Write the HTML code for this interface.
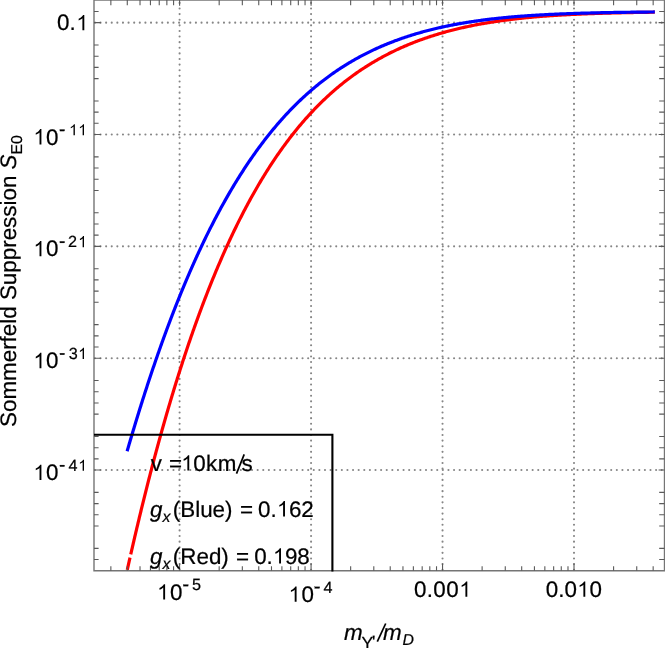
<!DOCTYPE html>
<html><head><meta charset="utf-8"><title>Sommerfeld Suppression</title>
<style>html,body{margin:0;padding:0;background:#fff;}body{width:665px;height:648px;overflow:hidden;font-family:"Liberation Sans",sans-serif;}svg{display:block;will-change:transform;text-rendering:geometricPrecision;}</style>
</head><body>
<svg width="665" height="648" viewBox="0 0 665 648">
<rect width="665" height="648" fill="#fff"/>
<g stroke="#868686" stroke-width="2.1" stroke-linecap="round" stroke-dasharray="0.01 5.602" fill="none">
<path d="M94.90,22.65 H665"/>
<path d="M94.90,134.50 H665"/>
<path d="M94.90,246.35 H665"/>
<path d="M94.90,358.20 H665"/>
<path d="M94.90,470.05 H665"/>
<path d="M179.60,569.70 V0"/>
<path d="M311.07,569.70 V0"/>
<path d="M442.54,569.70 V0"/>
<path d="M574.01,569.70 V0"/>
</g>
<g fill="none" stroke-width="3.2" stroke-linejoin="round">
<path d="M127.25,569.90 L127.50,568.78 L127.75,567.66 L128.00,566.54 L128.25,565.42 L128.50,564.30 L128.75,563.19 L129.00,562.08 L129.25,560.97 L129.50,559.86 L129.75,558.75 L130.00,557.65" stroke="#ff0000"/>
<path d="M130.75,554.34 L131.00,553.24 L131.25,552.15 L131.50,551.05 L131.75,549.96 L132.00,548.87 L132.25,547.78 L132.50,546.69 L132.75,545.61 L133.00,544.52 L133.25,543.44 L133.50,542.36 L133.75,541.28 L134.00,540.20 L134.25,539.13 L134.50,538.06 L134.75,536.98 L135.00,535.91 L135.25,534.85 L135.50,533.78 L135.75,532.71 L136.00,531.65 L136.25,530.59 L136.50,529.53 L136.75,528.47 L137.00,527.42 L137.25,526.36 L137.50,525.31 L137.75,524.26 L138.00,523.21 L138.25,522.16 L138.50,521.12 L138.75,520.07 L139.00,519.03 L139.25,517.99 L139.50,516.95 L139.75,515.91 L140.00,514.88 L140.25,513.85 L140.50,512.81 L140.75,511.78 L141.00,510.75 L141.25,509.73 L141.50,508.70 L141.75,507.68 L142.00,506.66 L142.25,505.64 L142.50,504.62 L142.75,503.60 L143.00,502.59 L143.25,501.57 L143.50,500.56 L143.75,499.55 L144.00,498.55 L144.25,497.54 L144.50,496.53 L144.75,495.53 L145.00,494.53 L145.25,493.53 L145.50,492.53 L145.75,491.54 L146.00,490.54 L146.25,489.55 L146.50,488.56 L146.75,487.57 L147.00,486.58 L147.25,485.59 L147.50,484.61 L147.75,483.62 L148.00,482.64 L148.25,481.66 L148.50,480.69 L148.75,479.71 L149.00,478.73 L149.25,477.76 L149.50,476.79 L149.75,475.82 L150.00,474.85 L150.25,473.89 L150.50,472.92 L150.75,471.96 L151.00,471.00 L151.25,470.04 L151.50,469.08 L151.75,468.12 L152.00,467.17 L152.25,466.21 L152.50,465.26 L152.75,464.31 L153.00,463.36 L153.25,462.42 L153.50,461.47 L153.75,460.53 L154.00,459.59 L154.25,458.65 L154.50,457.71 L154.75,456.77 L155.00,455.83 L155.25,454.90 L155.50,453.97 L155.75,453.04 L156.00,452.11 L156.25,451.18 L156.50,450.26 L156.75,449.33 L157.00,448.41 L157.25,447.49 L157.50,446.57 L157.75,445.65 L158.00,444.73 L158.25,443.82 L158.50,442.91 L158.75,442.00 L159.00,441.09 L159.25,440.18 L159.50,439.27 L159.75,438.37 L160.00,437.46 L160.25,436.56 L160.50,435.66 L160.75,434.76 L161.00,433.86 L161.25,432.97 L161.50,432.07 L161.75,431.18 L162.00,430.29 L162.25,429.40 L162.50,428.51 L162.75,427.63 L163.00,426.74 L163.25,425.86 L163.50,424.98 L163.75,424.10 L164.00,423.22 L164.25,422.34 L164.50,421.47 L164.75,420.59 L165.00,419.72 L165.25,418.85 L165.50,417.98 L165.75,417.11 L166.00,416.24 L166.25,415.38 L166.50,414.52 L166.75,413.66 L167.00,412.79 L167.25,411.94 L167.50,411.08 L167.75,410.22 L168.00,409.37 L168.25,408.52 L168.50,407.67 L168.75,406.82 L169.00,405.97 L169.25,405.12 L169.50,404.28 L169.75,403.43 L170.00,402.59 L170.25,401.75 L170.50,400.91 L170.75,400.07 L171.00,399.24 L171.25,398.40 L171.50,397.57 L171.75,396.74 L172.00,395.91 L172.25,395.08 L172.50,394.25 L172.75,393.43 L173.00,392.60 L173.25,391.78 L173.50,390.96 L173.75,390.14 L174.00,389.32 L174.25,388.51 L174.50,387.69 L174.75,386.88 L175.00,386.06 L175.25,385.25 L175.50,384.44 L175.75,383.64 L176.00,382.83 L176.25,382.02 L176.50,381.22 L176.75,380.42 L177.00,379.62 L177.25,378.82 L177.50,378.02 L177.75,377.22 L178.00,376.43 L178.25,375.64 L178.50,374.84 L178.75,374.05 L179.00,373.26 L179.25,372.48 L179.50,371.69 L179.75,370.91 L180.00,370.12 L180.25,369.34 L180.50,368.56 L180.75,367.78 L181.00,367.00 L181.25,366.23 L181.50,365.45 L181.75,364.68 L182.00,363.91 L182.25,363.14 L182.50,362.37 L182.75,361.60 L183.00,360.83 L183.25,360.07 L183.50,359.30 L183.75,358.54 L184.00,357.78 L184.25,357.02 L184.50,356.26 L184.75,355.51 L185.00,354.75 L185.25,354.00 L185.50,353.24 L185.75,352.49 L186.00,351.74 L186.25,350.99 L186.50,350.25 L186.75,349.50 L187.00,348.76 L187.25,348.01 L187.50,347.27 L187.75,346.53 L188.00,345.79 L188.25,345.06 L188.50,344.32 L188.75,343.58 L189.00,342.85 L189.25,342.12 L189.50,341.39 L189.75,340.66 L190.00,339.93 L190.25,339.20 L190.50,338.48 L190.75,337.76 L191.00,337.03 L191.25,336.31 L191.50,335.59 L191.75,334.87 L192.00,334.16 L192.25,333.44 L192.50,332.72 L192.75,332.01 L193.00,331.30 L193.25,330.59 L193.50,329.88 L193.75,329.17 L194.00,328.46 L194.25,327.76 L194.50,327.06 L194.75,326.35 L195.00,325.65 L195.25,324.95 L195.50,324.25 L195.75,323.55 L196.00,322.86 L196.25,322.16 L196.50,321.47 L196.75,320.78 L197.00,320.09 L197.25,319.40 L197.50,318.71 L197.75,318.02 L198.00,317.34 L198.25,316.65 L198.50,315.97 L198.75,315.29 L199.00,314.60 L199.25,313.93 L199.50,313.25 L199.75,312.57 L200.00,311.89 L201.00,309.20 L202.00,306.53 L203.00,303.89 L204.00,301.26 L205.00,298.65 L206.00,296.06 L207.00,293.48 L208.00,290.93 L209.00,288.40 L210.00,285.89 L211.00,283.40 L212.00,280.92 L213.00,278.47 L214.00,276.03 L215.00,273.61 L216.00,271.21 L217.00,268.83 L218.00,266.47 L219.00,264.12 L220.00,261.80 L221.00,259.49 L222.00,257.20 L223.00,254.92 L224.00,252.67 L225.00,250.43 L226.00,248.21 L227.00,246.01 L228.00,243.82 L229.00,241.65 L230.00,239.50 L231.00,237.36 L232.00,235.25 L233.00,233.14 L234.00,231.06 L235.00,228.99 L236.00,226.94 L237.00,224.90 L238.00,222.88 L239.00,220.88 L240.00,218.89 L241.00,216.92 L242.00,214.96 L243.00,213.02 L244.00,211.10 L245.00,209.19 L246.00,207.29 L247.00,205.41 L248.00,203.55 L249.00,201.70 L250.00,199.87 L251.00,198.05 L252.00,196.25 L253.00,194.46 L254.00,192.68 L255.00,190.92 L256.00,189.18 L257.00,187.45 L258.00,185.73 L259.00,184.03 L260.00,182.34 L261.00,180.66 L262.00,179.00 L263.00,177.36 L264.00,175.72 L265.00,174.10 L266.00,172.50 L267.00,170.90 L268.00,169.33 L269.00,167.76 L270.00,166.21 L271.00,164.67 L272.00,163.14 L273.00,161.63 L274.00,160.13 L275.00,158.64 L276.00,157.17 L277.00,155.70 L278.00,154.26 L279.00,152.82 L280.00,151.39 L281.00,149.98 L282.00,148.58 L283.00,147.19 L284.00,145.82 L285.00,144.45 L286.00,143.10 L287.00,141.76 L288.00,140.43 L289.00,139.11 L290.00,137.81 L291.00,136.52 L292.00,135.23 L293.00,133.96 L294.00,132.70 L295.00,131.45 L296.00,130.22 L297.00,128.99 L298.00,127.77 L299.00,126.57 L300.00,125.37 L301.00,124.19 L302.00,123.02 L303.00,121.85 L304.00,120.70 L305.00,119.56 L306.00,118.43 L307.00,117.31 L308.00,116.20 L309.00,115.10 L310.00,114.01 L311.00,112.93 L312.00,111.85 L313.00,110.79 L314.00,109.74 L315.00,108.70 L316.00,107.67 L317.00,106.64 L318.00,105.63 L319.00,104.63 L320.00,103.63 L321.00,102.64 L322.00,101.67 L323.00,100.70 L324.00,99.74 L325.00,98.79 L326.00,97.85 L327.00,96.92 L328.00,95.99 L329.00,95.08 L330.00,94.17 L331.00,93.27 L332.00,92.38 L333.00,91.50 L334.00,90.63 L335.00,89.77 L336.00,88.91 L337.00,88.06 L338.00,87.22 L339.00,86.39 L340.00,85.56 L341.00,84.74 L342.00,83.94 L343.00,83.13 L344.00,82.34 L345.00,81.55 L346.00,80.77 L347.00,80.00 L348.00,79.24 L349.00,78.48 L350.00,77.73 L351.00,76.99 L352.00,76.25 L353.00,75.53 L354.00,74.81 L355.00,74.09 L356.00,73.38 L357.00,72.68 L358.00,71.99 L359.00,71.30 L360.00,70.62 L361.00,69.95 L362.00,69.28 L363.00,68.62 L364.00,67.97 L365.00,67.32 L366.00,66.68 L367.00,66.04 L368.00,65.41 L369.00,64.79 L370.00,64.17 L371.00,63.56 L372.00,62.96 L373.00,62.36 L374.00,61.77 L375.00,61.18 L376.00,60.60 L377.00,60.02 L378.00,59.45 L379.00,58.89 L380.00,58.33 L381.00,57.78 L382.00,57.23 L383.00,56.69 L384.00,56.16 L385.00,55.62 L386.00,55.10 L387.00,54.58 L388.00,54.06 L389.00,53.55 L390.00,53.05 L391.00,52.55 L392.00,52.06 L393.00,51.57 L394.00,51.08 L395.00,50.60 L396.00,50.13 L397.00,49.66 L398.00,49.20 L399.00,48.74 L400.00,48.28 L401.00,47.83 L402.00,47.38 L403.00,46.94 L404.00,46.51 L405.00,46.07 L406.00,45.65 L407.00,45.22 L408.00,44.80 L409.00,44.39 L410.00,43.98 L411.00,43.57 L412.00,43.17 L413.00,42.78 L414.00,42.38 L415.00,41.99 L416.00,41.61 L417.00,41.23 L418.00,40.85 L419.00,40.48 L420.00,40.11 L421.00,39.75 L422.00,39.38 L423.00,39.03 L424.00,38.67 L425.00,38.33 L426.00,37.98 L427.00,37.64 L428.00,37.30 L429.00,36.97 L430.00,36.64 L431.00,36.31 L432.00,35.98 L433.00,35.66 L434.00,35.35 L435.00,35.04 L436.00,34.73 L437.00,34.42 L438.00,34.12 L439.00,33.82 L440.00,33.52 L441.00,33.23 L442.00,32.94 L443.00,32.65 L444.00,32.37 L445.00,32.09 L446.00,31.82 L447.00,31.54 L448.00,31.27 L449.00,31.00 L450.00,30.74 L451.00,30.48 L452.00,30.22 L453.00,29.97 L454.00,29.71 L455.00,29.46 L456.00,29.22 L457.00,28.97 L458.00,28.73 L459.00,28.50 L460.00,28.26 L461.00,28.03 L462.00,27.80 L463.00,27.57 L464.00,27.35 L465.00,27.13 L466.00,26.91 L467.00,26.69 L468.00,26.48 L469.00,26.27 L470.00,26.06 L471.00,25.85 L472.00,25.65 L473.00,25.45 L474.00,25.25 L475.00,25.05 L476.00,24.86 L477.00,24.67 L478.00,24.48 L479.00,24.29 L480.00,24.11 L481.00,23.93 L482.00,23.75 L483.00,23.57 L484.00,23.40 L485.00,23.22 L486.00,23.05 L487.00,22.88 L488.00,22.72 L489.00,22.55 L490.00,22.39 L491.00,22.23 L492.00,22.07 L493.00,21.91 L494.00,21.76 L495.00,21.61 L496.00,21.46 L497.00,21.31 L498.00,21.16 L499.00,21.02 L500.00,20.88 L501.00,20.74 L502.00,20.60 L503.00,20.46 L504.00,20.33 L505.00,20.19 L506.00,20.06 L507.00,19.93 L508.00,19.80 L509.00,19.68 L510.00,19.55 L511.00,19.43 L512.00,19.31 L513.00,19.19 L514.00,19.07 L515.00,18.95 L516.00,18.84 L517.00,18.73 L518.00,18.61 L519.00,18.50 L520.00,18.40 L521.00,18.29 L522.00,18.18 L523.00,18.08 L524.00,17.98 L525.00,17.88 L526.00,17.78 L527.00,17.68 L528.00,17.58 L529.00,17.49 L530.00,17.39 L531.00,17.30 L532.00,17.21 L533.00,17.12 L534.00,17.03 L535.00,16.94 L536.00,16.85 L537.00,16.77 L538.00,16.68 L539.00,16.60 L540.00,16.52 L541.00,16.44 L542.00,16.36 L543.00,16.28 L544.00,16.21 L545.00,16.13 L546.00,16.06 L547.00,15.98 L548.00,15.91 L549.00,15.84 L550.00,15.77 L551.00,15.70 L552.00,15.63 L553.00,15.57 L554.00,15.50 L555.00,15.43 L556.00,15.37 L557.00,15.31 L558.00,15.24 L559.00,15.18 L560.00,15.12 L561.00,15.06 L562.00,15.01 L563.00,14.95 L564.00,14.89 L565.00,14.84 L566.00,14.78 L567.00,14.73 L568.00,14.67 L569.00,14.62 L570.00,14.57 L571.00,14.52 L572.00,14.47 L573.00,14.42 L574.00,14.37 L575.00,14.32 L576.00,14.28 L577.00,14.23 L578.00,14.18 L579.00,14.14 L580.00,14.09 L581.00,14.05 L582.00,14.01 L583.00,13.97 L584.00,13.92 L585.00,13.88 L586.00,13.84 L587.00,13.80 L588.00,13.77 L589.00,13.73 L590.00,13.69 L591.00,13.65 L592.00,13.62 L593.00,13.58 L594.00,13.55 L595.00,13.51 L596.00,13.48 L597.00,13.44 L598.00,13.41 L599.00,13.38 L600.00,13.35 L601.00,13.31 L602.00,13.28 L603.00,13.25 L604.00,13.22 L605.00,13.19 L606.00,13.16 L607.00,13.14 L608.00,13.11 L609.00,13.08 L610.00,13.05 L611.00,13.03 L612.00,13.00 L613.00,12.97 L614.00,12.95 L615.00,12.92 L616.00,12.90 L617.00,12.87 L618.00,12.85 L619.00,12.83 L620.00,12.80 L621.00,12.78 L622.00,12.76 L623.00,12.74 L624.00,12.72 L625.00,12.69 L626.00,12.67 L627.00,12.65 L628.00,12.63 L629.00,12.61 L630.00,12.59 L631.00,12.57 L632.00,12.56 L633.00,12.54 L634.00,12.52 L635.00,12.50 L636.00,12.48 L637.00,12.47 L638.00,12.45 L639.00,12.43 L640.00,12.42 L641.00,12.40 L642.00,12.38 L643.00,12.37 L644.00,12.35 L645.00,12.34 L646.00,12.32 L647.00,12.31 L648.00,12.29 L649.00,12.28 L650.00,12.27 L651.00,12.25 L652.00,12.24 L653.00,12.23 L654.00,12.21 L654.80,12.20" stroke="#ff0000"/>
<path d="M127.10,451.29 L127.35,450.42 L127.60,449.56 L127.85,448.70 L128.10,447.84 L128.35,446.98 L128.60,446.13 L128.85,445.27 L129.10,444.42 L129.35,443.56 L129.60,442.71 L129.85,441.86 L130.10,441.01 L130.35,440.16 L130.60,439.32 L130.85,438.47 L131.10,437.62 L131.35,436.78 L131.60,435.94 L131.85,435.10 L132.10,434.26 L132.35,433.42 L132.60,432.58 L132.85,431.75 L133.10,430.91 L133.35,430.08 L133.60,429.25 L133.85,428.42 L134.10,427.59 L134.35,426.76 L134.60,425.93 L134.85,425.10 L135.10,424.28 L135.35,423.46 L135.60,422.63 L135.85,421.81 L136.10,420.99 L136.35,420.17 L136.60,419.36 L136.85,418.54 L137.10,417.72 L137.35,416.91 L137.60,416.10 L137.85,415.29 L138.10,414.48 L138.35,413.67 L138.60,412.86 L138.85,412.05 L139.10,411.25 L139.35,410.45 L139.60,409.64 L139.85,408.84 L140.10,408.04 L140.35,407.24 L140.60,406.44 L140.85,405.65 L141.10,404.85 L141.35,404.06 L141.60,403.27 L141.85,402.47 L142.10,401.68 L142.35,400.89 L142.60,400.11 L142.85,399.32 L143.10,398.53 L143.35,397.75 L143.60,396.97 L143.85,396.18 L144.10,395.40 L144.35,394.62 L144.60,393.85 L144.85,393.07 L145.10,392.29 L145.35,391.52 L145.60,390.74 L145.85,389.97 L146.10,389.20 L146.35,388.43 L146.60,387.66 L146.85,386.90 L147.10,386.13 L147.35,385.36 L147.60,384.60 L147.85,383.84 L148.10,383.08 L148.35,382.32 L148.60,381.56 L148.85,380.80 L149.10,380.04 L149.35,379.29 L149.60,378.53 L149.85,377.78 L150.10,377.03 L150.35,376.28 L150.60,375.53 L150.85,374.78 L151.10,374.03 L151.35,373.29 L151.60,372.54 L151.85,371.80 L152.10,371.06 L152.35,370.31 L152.60,369.57 L152.85,368.84 L153.10,368.10 L153.35,367.36 L153.60,366.63 L153.85,365.89 L154.10,365.16 L154.35,364.43 L154.60,363.70 L154.85,362.97 L155.10,362.24 L155.35,361.51 L155.60,360.79 L155.85,360.06 L156.10,359.34 L156.35,358.62 L156.60,357.89 L156.85,357.17 L157.10,356.46 L157.35,355.74 L157.60,355.02 L157.85,354.31 L158.10,353.59 L158.35,352.88 L158.60,352.17 L158.85,351.46 L159.10,350.75 L159.35,350.04 L159.60,349.33 L159.85,348.63 L160.10,347.92 L160.35,347.22 L160.60,346.51 L160.85,345.81 L161.10,345.11 L161.35,344.41 L161.60,343.72 L161.85,343.02 L162.10,342.32 L162.35,341.63 L162.60,340.94 L162.85,340.24 L163.10,339.55 L163.35,338.86 L163.60,338.17 L163.85,337.49 L164.10,336.80 L164.35,336.11 L164.60,335.43 L164.85,334.75 L165.10,334.06 L165.35,333.38 L165.60,332.70 L165.85,332.02 L166.10,331.35 L166.35,330.67 L166.60,330.00 L166.85,329.32 L167.10,328.65 L167.35,327.98 L167.60,327.31 L167.85,326.64 L168.10,325.97 L168.35,325.30 L168.60,324.63 L168.85,323.97 L169.10,323.31 L169.35,322.64 L169.60,321.98 L169.85,321.32 L170.10,320.66 L170.35,320.00 L170.60,319.34 L170.85,318.69 L171.10,318.03 L171.35,317.38 L171.60,316.73 L171.85,316.08 L172.10,315.42 L172.35,314.77 L172.60,314.13 L172.85,313.48 L173.10,312.83 L173.35,312.19 L173.60,311.54 L173.85,310.90 L174.10,310.26 L174.35,309.62 L174.60,308.98 L174.85,308.34 L175.10,307.70 L175.35,307.07 L175.60,306.43 L175.85,305.80 L176.10,305.16 L176.35,304.53 L176.60,303.90 L176.85,303.27 L177.10,302.64 L177.35,302.01 L177.60,301.39 L177.85,300.76 L178.10,300.14 L178.35,299.51 L178.60,298.89 L178.85,298.27 L179.10,297.65 L179.35,297.03 L179.60,296.41 L179.85,295.80 L180.10,295.18 L180.35,294.56 L180.60,293.95 L180.85,293.34 L181.10,292.73 L181.35,292.12 L181.60,291.51 L181.85,290.90 L182.10,290.29 L182.35,289.68 L182.60,289.08 L182.85,288.47 L183.10,287.87 L183.35,287.27 L183.60,286.67 L183.85,286.07 L184.10,285.47 L184.35,284.87 L184.60,284.27 L184.85,283.68 L185.10,283.08 L185.35,282.49 L185.60,281.90 L185.85,281.30 L186.10,280.71 L186.35,280.12 L186.60,279.53 L186.85,278.95 L187.10,278.36 L187.35,277.78 L187.60,277.19 L187.85,276.61 L188.10,276.02 L188.35,275.44 L188.60,274.86 L188.85,274.28 L189.10,273.71 L189.35,273.13 L189.60,272.55 L189.85,271.98 L190.10,271.40 L190.35,270.83 L190.60,270.26 L190.85,269.69 L191.10,269.11 L191.35,268.55 L191.60,267.98 L191.85,267.41 L192.10,266.84 L192.35,266.28 L192.60,265.71 L192.85,265.15 L193.10,264.59 L193.35,264.03 L193.60,263.47 L193.85,262.91 L194.10,262.35 L194.35,261.79 L194.60,261.24 L194.85,260.68 L195.10,260.13 L195.35,259.57 L195.60,259.02 L195.85,258.47 L196.10,257.92 L196.35,257.37 L196.60,256.82 L196.85,256.28 L197.10,255.73 L197.35,255.18 L197.60,254.64 L197.85,254.10 L198.10,253.55 L198.35,253.01 L198.60,252.47 L198.85,251.93 L199.10,251.39 L199.35,250.86 L199.60,250.32 L199.85,249.78 L200.00,249.46 L201.00,247.33 L202.00,245.22 L203.00,243.12 L204.00,241.03 L205.00,238.96 L206.00,236.91 L207.00,234.87 L208.00,232.85 L209.00,230.84 L210.00,228.84 L211.00,226.86 L212.00,224.90 L213.00,222.94 L214.00,221.01 L215.00,219.09 L216.00,217.18 L217.00,215.28 L218.00,213.40 L219.00,211.54 L220.00,209.69 L221.00,207.85 L222.00,206.02 L223.00,204.21 L224.00,202.41 L225.00,200.63 L226.00,198.86 L227.00,197.10 L228.00,195.36 L229.00,193.63 L230.00,191.91 L231.00,190.21 L232.00,188.52 L233.00,186.84 L234.00,185.18 L235.00,183.53 L236.00,181.89 L237.00,180.26 L238.00,178.65 L239.00,177.04 L240.00,175.45 L241.00,173.88 L242.00,172.31 L243.00,170.76 L244.00,169.22 L245.00,167.69 L246.00,166.18 L247.00,164.67 L248.00,163.18 L249.00,161.70 L250.00,160.23 L251.00,158.78 L252.00,157.33 L253.00,155.90 L254.00,154.48 L255.00,153.07 L256.00,151.67 L257.00,150.28 L258.00,148.91 L259.00,147.54 L260.00,146.19 L261.00,144.85 L262.00,143.52 L263.00,142.19 L264.00,140.88 L265.00,139.59 L266.00,138.30 L267.00,137.02 L268.00,135.75 L269.00,134.50 L270.00,133.25 L271.00,132.02 L272.00,130.79 L273.00,129.58 L274.00,128.38 L275.00,127.18 L276.00,126.00 L277.00,124.82 L278.00,123.66 L279.00,122.51 L280.00,121.36 L281.00,120.23 L282.00,119.11 L283.00,117.99 L284.00,116.89 L285.00,115.79 L286.00,114.71 L287.00,113.63 L288.00,112.57 L289.00,111.51 L290.00,110.46 L291.00,109.42 L292.00,108.39 L293.00,107.37 L294.00,106.36 L295.00,105.36 L296.00,104.37 L297.00,103.38 L298.00,102.41 L299.00,101.44 L300.00,100.48 L301.00,99.53 L302.00,98.59 L303.00,97.66 L304.00,96.73 L305.00,95.82 L306.00,94.91 L307.00,94.01 L308.00,93.12 L309.00,92.24 L310.00,91.36 L311.00,90.50 L312.00,89.64 L313.00,88.79 L314.00,87.94 L315.00,87.11 L316.00,86.28 L317.00,85.46 L318.00,84.65 L319.00,83.85 L320.00,83.05 L321.00,82.26 L322.00,81.48 L323.00,80.70 L324.00,79.94 L325.00,79.17 L326.00,78.42 L327.00,77.68 L328.00,76.94 L329.00,76.20 L330.00,75.48 L331.00,74.76 L332.00,74.05 L333.00,73.35 L334.00,72.65 L335.00,71.96 L336.00,71.27 L337.00,70.59 L338.00,69.92 L339.00,69.26 L340.00,68.60 L341.00,67.95 L342.00,67.30 L343.00,66.66 L344.00,66.03 L345.00,65.40 L346.00,64.78 L347.00,64.16 L348.00,63.56 L349.00,62.95 L350.00,62.36 L351.00,61.76 L352.00,61.18 L353.00,60.60 L354.00,60.02 L355.00,59.46 L356.00,58.89 L357.00,58.34 L358.00,57.78 L359.00,57.24 L360.00,56.70 L361.00,56.16 L362.00,55.63 L363.00,55.11 L364.00,54.59 L365.00,54.07 L366.00,53.57 L367.00,53.06 L368.00,52.56 L369.00,52.07 L370.00,51.58 L371.00,51.10 L372.00,50.62 L373.00,50.14 L374.00,49.67 L375.00,49.21 L376.00,48.75 L377.00,48.30 L378.00,47.85 L379.00,47.40 L380.00,46.96 L381.00,46.52 L382.00,46.09 L383.00,45.66 L384.00,45.24 L385.00,44.82 L386.00,44.41 L387.00,44.00 L388.00,43.59 L389.00,43.19 L390.00,42.79 L391.00,42.40 L392.00,42.01 L393.00,41.63 L394.00,41.25 L395.00,40.87 L396.00,40.50 L397.00,40.13 L398.00,39.76 L399.00,39.40 L400.00,39.05 L401.00,38.69 L402.00,38.34 L403.00,38.00 L404.00,37.66 L405.00,37.32 L406.00,36.98 L407.00,36.65 L408.00,36.33 L409.00,36.00 L410.00,35.68 L411.00,35.37 L412.00,35.05 L413.00,34.74 L414.00,34.44 L415.00,34.14 L416.00,33.84 L417.00,33.54 L418.00,33.25 L419.00,32.96 L420.00,32.67 L421.00,32.39 L422.00,32.11 L423.00,31.83 L424.00,31.56 L425.00,31.29 L426.00,31.02 L427.00,30.76 L428.00,30.50 L429.00,30.24 L430.00,29.98 L431.00,29.73 L432.00,29.48 L433.00,29.23 L434.00,28.99 L435.00,28.75 L436.00,28.51 L437.00,28.28 L438.00,28.04 L439.00,27.81 L440.00,27.59 L441.00,27.36 L442.00,27.14 L443.00,26.92 L444.00,26.71 L445.00,26.49 L446.00,26.28 L447.00,26.07 L448.00,25.87 L449.00,25.66 L450.00,25.46 L451.00,25.26 L452.00,25.07 L453.00,24.87 L454.00,24.68 L455.00,24.49 L456.00,24.31 L457.00,24.12 L458.00,23.94 L459.00,23.76 L460.00,23.58 L461.00,23.41 L462.00,23.23 L463.00,23.06 L464.00,22.89 L465.00,22.73 L466.00,22.56 L467.00,22.40 L468.00,22.24 L469.00,22.08 L470.00,21.93 L471.00,21.77 L472.00,21.62 L473.00,21.47 L474.00,21.32 L475.00,21.17 L476.00,21.03 L477.00,20.89 L478.00,20.75 L479.00,20.61 L480.00,20.47 L481.00,20.33 L482.00,20.20 L483.00,20.07 L484.00,19.94 L485.00,19.81 L486.00,19.69 L487.00,19.56 L488.00,19.44 L489.00,19.32 L490.00,19.20 L491.00,19.08 L492.00,18.96 L493.00,18.85 L494.00,18.73 L495.00,18.62 L496.00,18.51 L497.00,18.40 L498.00,18.30 L499.00,18.19 L500.00,18.09 L501.00,17.98 L502.00,17.88 L503.00,17.78 L504.00,17.68 L505.00,17.59 L506.00,17.49 L507.00,17.40 L508.00,17.31 L509.00,17.21 L510.00,17.12 L511.00,17.03 L512.00,16.95 L513.00,16.86 L514.00,16.77 L515.00,16.69 L516.00,16.61 L517.00,16.53 L518.00,16.45 L519.00,16.37 L520.00,16.29 L521.00,16.21 L522.00,16.14 L523.00,16.06 L524.00,15.99 L525.00,15.92 L526.00,15.84 L527.00,15.77 L528.00,15.71 L529.00,15.64 L530.00,15.57 L531.00,15.50 L532.00,15.44 L533.00,15.37 L534.00,15.31 L535.00,15.25 L536.00,15.19 L537.00,15.13 L538.00,15.07 L539.00,15.01 L540.00,14.95 L541.00,14.90 L542.00,14.84 L543.00,14.78 L544.00,14.73 L545.00,14.68 L546.00,14.62 L547.00,14.57 L548.00,14.52 L549.00,14.47 L550.00,14.42 L551.00,14.37 L552.00,14.33 L553.00,14.28 L554.00,14.23 L555.00,14.19 L556.00,14.14 L557.00,14.10 L558.00,14.05 L559.00,14.01 L560.00,13.97 L561.00,13.93 L562.00,13.89 L563.00,13.85 L564.00,13.81 L565.00,13.77 L566.00,13.73 L567.00,13.69 L568.00,13.66 L569.00,13.62 L570.00,13.58 L571.00,13.55 L572.00,13.51 L573.00,13.48 L574.00,13.45 L575.00,13.41 L576.00,13.38 L577.00,13.35 L578.00,13.32 L579.00,13.28 L580.00,13.25 L581.00,13.22 L582.00,13.19 L583.00,13.17 L584.00,13.14 L585.00,13.11 L586.00,13.08 L587.00,13.05 L588.00,13.03 L589.00,13.00 L590.00,12.98 L591.00,12.95 L592.00,12.92 L593.00,12.90 L594.00,12.88 L595.00,12.85 L596.00,12.83 L597.00,12.81 L598.00,12.78 L599.00,12.76 L600.00,12.74 L601.00,12.72 L602.00,12.70 L603.00,12.68 L604.00,12.65 L605.00,12.63 L606.00,12.61 L607.00,12.60 L608.00,12.58 L609.00,12.56 L610.00,12.54 L611.00,12.52 L612.00,12.50 L613.00,12.48 L614.00,12.47 L615.00,12.45 L616.00,12.43 L617.00,12.42 L618.00,12.40 L619.00,12.38 L620.00,12.37 L621.00,12.35 L622.00,12.34 L623.00,12.32 L624.00,12.31 L625.00,12.29 L626.00,12.28 L627.00,12.27 L628.00,12.25 L629.00,12.24 L630.00,12.23 L631.00,12.21 L632.00,12.20 L633.00,12.19 L634.00,12.18 L635.00,12.16 L636.00,12.15 L637.00,12.14 L638.00,12.13 L639.00,12.12 L640.00,12.11 L641.00,12.09 L642.00,12.08 L643.00,12.07 L644.00,12.06 L645.00,12.05 L646.00,12.04 L647.00,12.03 L648.00,12.02 L649.00,12.01 L650.00,12.00 L651.00,11.99 L652.00,11.99 L653.00,11.98 L654.00,11.97 L654.80,11.96" stroke="#0000ff"/>
</g>
<g stroke="#757575" stroke-width="1.4" fill="none">
<path d="M94.0,0 V570.8 M664.5,0 V570.8 M93.3,570.8 H665 M93.3,0.05 H665"/>
</g>
<g stroke="#5a5a5a" stroke-width="1.1" fill="none">
<path d="M110.86,570.8 v-4.6 M110.86,0 v5.3"/>
<path d="M127.28,570.8 v-4.6 M127.28,0 v5.3"/>
<path d="M140.02,570.8 v-4.6 M140.02,0 v5.3"/>
<path d="M150.43,570.8 v-4.6 M150.43,0 v5.3"/>
<path d="M159.24,570.8 v-4.6 M159.24,0 v5.3"/>
<path d="M166.86,570.8 v-4.6 M166.86,0 v5.3"/>
<path d="M173.58,570.8 v-4.6 M173.58,0 v5.3"/>
<path d="M179.60,570.8 v-7.2 M179.60,0 v5.8"/>
<path d="M219.18,570.8 v-4.6 M219.18,0 v5.3"/>
<path d="M242.33,570.8 v-4.6 M242.33,0 v5.3"/>
<path d="M258.75,570.8 v-4.6 M258.75,0 v5.3"/>
<path d="M271.49,570.8 v-4.6 M271.49,0 v5.3"/>
<path d="M281.90,570.8 v-4.6 M281.90,0 v5.3"/>
<path d="M290.71,570.8 v-4.6 M290.71,0 v5.3"/>
<path d="M298.33,570.8 v-4.6 M298.33,0 v5.3"/>
<path d="M305.05,570.8 v-4.6 M305.05,0 v5.3"/>
<path d="M311.07,570.8 v-7.2 M311.07,0 v5.8"/>
<path d="M350.65,570.8 v-4.6 M350.65,0 v5.3"/>
<path d="M373.80,570.8 v-4.6 M373.80,0 v5.3"/>
<path d="M390.22,570.8 v-4.6 M390.22,0 v5.3"/>
<path d="M402.96,570.8 v-4.6 M402.96,0 v5.3"/>
<path d="M413.37,570.8 v-4.6 M413.37,0 v5.3"/>
<path d="M422.18,570.8 v-4.6 M422.18,0 v5.3"/>
<path d="M429.80,570.8 v-4.6 M429.80,0 v5.3"/>
<path d="M436.52,570.8 v-4.6 M436.52,0 v5.3"/>
<path d="M442.54,570.8 v-7.2 M442.54,0 v5.8"/>
<path d="M482.12,570.8 v-4.6 M482.12,0 v5.3"/>
<path d="M505.27,570.8 v-4.6 M505.27,0 v5.3"/>
<path d="M521.69,570.8 v-4.6 M521.69,0 v5.3"/>
<path d="M534.43,570.8 v-4.6 M534.43,0 v5.3"/>
<path d="M544.84,570.8 v-4.6 M544.84,0 v5.3"/>
<path d="M553.65,570.8 v-4.6 M553.65,0 v5.3"/>
<path d="M561.27,570.8 v-4.6 M561.27,0 v5.3"/>
<path d="M567.99,570.8 v-4.6 M567.99,0 v5.3"/>
<path d="M574.01,570.8 v-7.2 M574.01,0 v5.8"/>
<path d="M613.59,570.8 v-4.6 M613.59,0 v5.3"/>
<path d="M636.74,570.8 v-4.6 M636.74,0 v5.3"/>
<path d="M653.16,570.8 v-4.6 M653.16,0 v5.3"/>
<path d="M94.0,11.46 h4.6 M664.5,11.46 h-5.3"/>
<path d="M94.0,22.65 h6.8 M664.5,22.65 h-5.9"/>
<path d="M94.0,45.02 h4.6 M664.5,45.02 h-5.3"/>
<path d="M94.0,56.20 h4.6 M664.5,56.20 h-5.3"/>
<path d="M94.0,67.39 h4.6 M664.5,67.39 h-5.3"/>
<path d="M94.0,78.58 h4.6 M664.5,78.58 h-5.3"/>
<path d="M94.0,100.94 h4.6 M664.5,100.94 h-5.3"/>
<path d="M94.0,112.13 h4.6 M664.5,112.13 h-5.3"/>
<path d="M94.0,123.31 h4.6 M664.5,123.31 h-5.3"/>
<path d="M94.0,134.50 h6.8 M664.5,134.50 h-5.9"/>
<path d="M94.0,156.87 h4.6 M664.5,156.87 h-5.3"/>
<path d="M94.0,168.06 h4.6 M664.5,168.06 h-5.3"/>
<path d="M94.0,179.24 h4.6 M664.5,179.24 h-5.3"/>
<path d="M94.0,190.43 h4.6 M664.5,190.43 h-5.3"/>
<path d="M94.0,212.80 h4.6 M664.5,212.80 h-5.3"/>
<path d="M94.0,223.98 h4.6 M664.5,223.98 h-5.3"/>
<path d="M94.0,235.17 h4.6 M664.5,235.17 h-5.3"/>
<path d="M94.0,246.35 h6.8 M664.5,246.35 h-5.9"/>
<path d="M94.0,268.72 h4.6 M664.5,268.72 h-5.3"/>
<path d="M94.0,279.90 h4.6 M664.5,279.90 h-5.3"/>
<path d="M94.0,291.09 h4.6 M664.5,291.09 h-5.3"/>
<path d="M94.0,302.27 h4.6 M664.5,302.27 h-5.3"/>
<path d="M94.0,324.64 h4.6 M664.5,324.64 h-5.3"/>
<path d="M94.0,335.83 h4.6 M664.5,335.83 h-5.3"/>
<path d="M94.0,347.01 h4.6 M664.5,347.01 h-5.3"/>
<path d="M94.0,358.20 h6.8 M664.5,358.20 h-5.9"/>
<path d="M94.0,380.57 h4.6 M664.5,380.57 h-5.3"/>
<path d="M94.0,391.75 h4.6 M664.5,391.75 h-5.3"/>
<path d="M94.0,402.94 h4.6 M664.5,402.94 h-5.3"/>
<path d="M94.0,414.12 h4.6 M664.5,414.12 h-5.3"/>
<path d="M94.0,436.50 h4.6 M664.5,436.50 h-5.3"/>
<path d="M94.0,447.68 h4.6 M664.5,447.68 h-5.3"/>
<path d="M94.0,458.87 h4.6 M664.5,458.87 h-5.3"/>
<path d="M94.0,470.05 h6.8 M664.5,470.05 h-5.9"/>
<path d="M94.0,492.42 h4.6 M664.5,492.42 h-5.3"/>
<path d="M94.0,503.61 h4.6 M664.5,503.61 h-5.3"/>
<path d="M94.0,514.79 h4.6 M664.5,514.79 h-5.3"/>
<path d="M94.0,525.98 h4.6 M664.5,525.98 h-5.3"/>
<path d="M94.0,548.35 h4.6 M664.5,548.35 h-5.3"/>
<path d="M94.0,559.53 h4.6 M664.5,559.53 h-5.3"/>
</g>
<path d="M94.0,434.7 H332.4 V571.4" stroke="#000" stroke-width="2.1" fill="none"/>
<g font-family="'Liberation Sans', sans-serif" fill="#000" stroke="#000" stroke-width="0.22" font-size="22.4">
<path transform="translate(76.31,30.30) scale(0.01047,-0.01047)" d="M763 0H583V1147Q518 1085 412.5 1023T223 930V1104Q374 1175 487 1276T647 1472H763Z"/>
<text x="56.92 69.56" y="30.30">0.</text>
<path transform="translate(33.42,144.50) scale(0.01047,-0.01047)" d="M763 0H583V1147Q518 1085 412.5 1023T223 930V1104Q374 1175 487 1276T647 1472H763Z"/>
<text x="46.12" y="144.50">0</text>
<rect x="59.9" y="129.50" width="4.7" height="1.6"/>
<path transform="translate(69.09,135.30) scale(0.00757,-0.00757)" d="M763 0H583V1147Q518 1085 412.5 1023T223 930V1104Q374 1175 487 1276T647 1472H763Z"/>
<path transform="translate(78.22,135.30) scale(0.00757,-0.00757)" d="M763 0H583V1147Q518 1085 412.5 1023T223 930V1104Q374 1175 487 1276T647 1472H763Z"/>
<path transform="translate(33.42,256.35) scale(0.01047,-0.01047)" d="M763 0H583V1147Q518 1085 412.5 1023T223 930V1104Q374 1175 487 1276T647 1472H763Z"/>
<text x="46.12" y="256.35">0</text>
<rect x="59.9" y="241.35" width="4.7" height="1.6"/>
<path transform="translate(78.22,247.15) scale(0.00757,-0.00757)" d="M763 0H583V1147Q518 1085 412.5 1023T223 930V1104Q374 1175 487 1276T647 1472H763Z"/>
<text x="68.09" y="247.15" font-size="16.2">2</text>
<path transform="translate(33.42,368.20) scale(0.01047,-0.01047)" d="M763 0H583V1147Q518 1085 412.5 1023T223 930V1104Q374 1175 487 1276T647 1472H763Z"/>
<text x="46.12" y="368.20">0</text>
<rect x="59.9" y="353.20" width="4.7" height="1.6"/>
<path transform="translate(78.22,359.00) scale(0.00757,-0.00757)" d="M763 0H583V1147Q518 1085 412.5 1023T223 930V1104Q374 1175 487 1276T647 1472H763Z"/>
<text x="68.78" y="359.00" font-size="16.2">3</text>
<path transform="translate(33.42,480.05) scale(0.01047,-0.01047)" d="M763 0H583V1147Q518 1085 412.5 1023T223 930V1104Q374 1175 487 1276T647 1472H763Z"/>
<text x="46.12" y="480.05">0</text>
<rect x="59.9" y="465.05" width="4.7" height="1.6"/>
<path transform="translate(78.22,470.85) scale(0.00757,-0.00757)" d="M763 0H583V1147Q518 1085 412.5 1023T223 930V1104Q374 1175 487 1276T647 1472H763Z"/>
<text x="68.53" y="470.85" font-size="16.2">4</text>
<path transform="translate(157.12,599.60) scale(0.01047,-0.01047)" d="M763 0H583V1147Q518 1085 412.5 1023T223 930V1104Q374 1175 487 1276T647 1472H763Z"/>
<text x="170.02" y="599.60">0</text>
<rect x="183.30" y="584.6" width="4.9" height="1.6"/><text x="192.10" y="590.3" font-size="16.2">5</text>
<path transform="translate(288.59,601.80) scale(0.01047,-0.01047)" d="M763 0H583V1147Q518 1085 412.5 1023T223 930V1104Q374 1175 487 1276T647 1472H763Z"/>
<text x="301.49" y="601.80">0</text>
<rect x="314.77" y="586.8" width="4.9" height="1.6"/><text x="323.57" y="592.5" font-size="16.2">4</text>
<path transform="translate(459.31,596.80) scale(0.01047,-0.01047)" d="M763 0H583V1147Q518 1085 412.5 1023T223 930V1104Q374 1175 487 1276T647 1472H763Z"/>
<text x="413.92 426.74 433.32 446.14" y="596.80">0.00</text>
<path transform="translate(577.29,596.80) scale(0.01047,-0.01047)" d="M763 0H583V1147Q518 1085 412.5 1023T223 930V1104Q374 1175 487 1276T647 1472H763Z"/>
<text x="545.72 558.21 564.45 589.42" y="596.80">0.00</text>
<text transform="translate(16.4,427) rotate(-90)">Sommerfeld Suppression <tspan font-style="italic">S</tspan><tspan font-size="15.799999999999999" dy="5.5">E0</tspan></text>
<text x="344" y="639.8" font-style="italic">m</text>
<text x="361.4" y="648.5" font-size="17.6">Y</text>
<path d="M372.8,635.7 h1.8 l-0.35,3.9 h-1.1 z"/>
<path d="M377.3,641.6 L385.7,623.5" stroke="#000" stroke-width="1.7" fill="none"/>
<text x="383" y="639.8" font-style="italic">m</text>
<text x="402.5" y="644.8" font-size="15.799999999999999" font-style="italic">D</text>
<text x="150.7" y="470.6">v</text>
<path transform="translate(181.26,470.60) scale(0.01047,-0.01047)" d="M763 0H583V1147Q518 1085 412.5 1023T223 930V1104Q374 1175 487 1276T647 1472H763Z"/>
<text x="169.10 193.20 206.00 217.70" y="470.60">=0km</text>
<path d="M236.5,473.6 L244.2,454.4" stroke="#000" stroke-width="1.7" fill="none"/><text x="241.5" y="470.6">s</text>
<text x="150.0" y="516.5" font-style="italic">g</text><text x="162.6" y="522.0" font-size="15.799999999999999" font-style="italic">x</text><text x="172.8" y="516.5">(Blue)</text><text x="240.0" y="516.5">=</text>
<path transform="translate(276.99,516.50) scale(0.01047,-0.01047)" d="M763 0H583V1147Q518 1085 412.5 1023T223 930V1104Q374 1175 487 1276T647 1472H763Z"/>
<text x="258.12 270.49 289.00 301.37" y="516.50">0.62</text>
<text x="150.0" y="563.6" font-style="italic">g</text><text x="162.6" y="569.1" font-size="15.799999999999999" font-style="italic">x</text><text x="172.8" y="563.6">(Red)</text><text x="236.1" y="563.6">=</text>
<path transform="translate(273.01,563.60) scale(0.01047,-0.01047)" d="M763 0H583V1147Q518 1085 412.5 1023T223 930V1104Q374 1175 487 1276T647 1472H763Z"/>
<text x="254.22 266.56 284.98 297.32" y="563.60">0.98</text>
</g>
</svg>
</body></html>
